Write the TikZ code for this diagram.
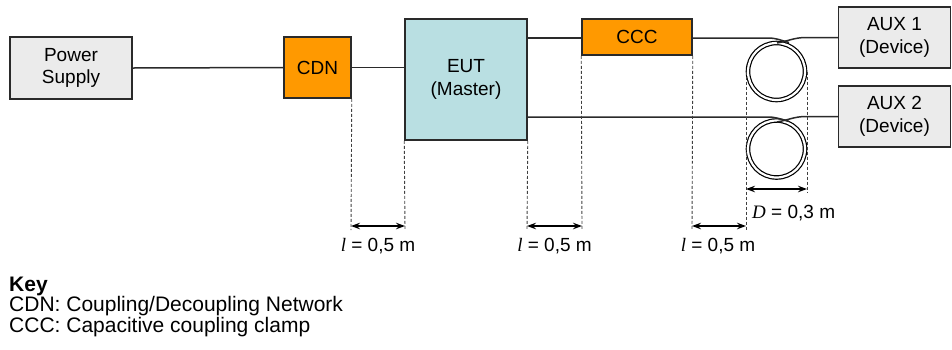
\documentclass[tikz,border=0pt]{standalone}
\usepackage{fontspec}
\setmainfont{Liberation Sans}
\newfontfamily\mathserif{Liberation Serif}
\usetikzlibrary{arrows.meta}
\definecolor{boxgray}{HTML}{EBEBEB}
\definecolor{boxorange}{HTML}{FF9900}
\definecolor{boxteal}{HTML}{B9DFE2}
\definecolor{edge}{HTML}{2A2A2A}
\begin{document}
\begin{tikzpicture}[x=1pt,y=-1pt,
  box/.style={draw=edge, line width=1.5pt, inner sep=0pt, align=center,
    font=\fontsize{19}{22.5}\selectfont},
  wire/.style={line width=1.5pt, draw=edge},
  coil/.style={circle, draw=black, line width=1.2pt, double=white, double distance=2.2pt,
    minimum size=57pt, inner sep=0pt},
  dim/.style={draw=black!75, line width=0.9pt, dash pattern=on 3pt off 2pt},
  dimarrow/.style={line width=1.3pt, {Stealth[length=9pt,width=6.5pt]}-{Stealth[length=9pt,width=6.5pt]}},
  lab/.style={inner sep=0pt, font=\fontsize{19}{22}\selectfont},
  keytext/.style={inner sep=0pt, anchor=base west, font=\fontsize{21}{24}\selectfont}]
\useasboundingbox (0,0) rectangle (952,349);

% boxes
\node[box, fill=boxgray, minimum width=122pt, minimum height=62pt] (ps) at (71,68) {Power\\Supply};
\node[box, fill=boxorange, minimum width=67pt, minimum height=61pt] (cdn) at (317.5,67.5) {CDN};
\node[box, fill=boxteal, minimum width=122pt, minimum height=121pt] (eut) at (466,79.5) {EUT\\(Master)};
\node[box, fill=boxorange, minimum width=110pt, minimum height=36pt] (ccc) at (637,37) {CCC};
\node[box, fill=boxgray, minimum width=112pt, minimum height=61pt] (aux1) at (894.5,37.5) {AUX 1\\(Device)};
\node[box, fill=boxgray, minimum width=112pt, minimum height=61pt] (aux2) at (894.5,116.5) {AUX 2\\(Device)};

% coils
\node[coil] (coil1) at (776.5,71.5) {};
\node[coil] (coil2) at (776.5,149) {};

% wires
\draw[wire] (ps.east) -- (cdn.west);
\draw[wire] (cdn.east) -- (cdn.east -| eut.west);
\coordinate (eutt) at (527,38);
\coordinate (eutb) at (527,117);
\draw[wire] (eutt) -- (ccc.west |- eutt);
\draw[wire] (ccc.east |- eutt) -- (768,38) to[out=0,in=165] (789,42.5);
\draw[wire] (777,43) to[out=10,in=180] (806,37.5) -- (aux1.west);
\draw[wire] (eutb) -- (768,117) to[out=0,in=165] (789,121.5);
\draw[wire] (777,122) to[out=10,in=180] (806,116.5) -- (aux2.west);

% dashed extension lines
\coordinate (d1) at (351,230);
\coordinate (d2) at (405,230);
\coordinate (d3) at (527,230);
\coordinate (d4) at (582,230);
\coordinate (d5) at (692,230);
\coordinate (d6) at (746,230);
\coordinate (d7) at (807,192);
\draw[dim] (cdn.south east) -- (d1);
\draw[dim] (eut.south west) -- (d2);
\draw[dim] (eut.south east) -- (d3);
\draw[dim] (ccc.south west) -- (d4);
\draw[dim] (ccc.south east) -- (d5);
\draw[dim] (746,71.5) -- (d6);
\draw[dim] (807,71.5) -- (d7);

% dimension arrows
\coordinate (a1l) at (351,226); \coordinate (a1r) at (405,226);
\coordinate (a2l) at (527,226); \coordinate (a2r) at (582,226);
\coordinate (a3l) at (692,226); \coordinate (a3r) at (746,226);
\coordinate (a4l) at (746,189); \coordinate (a4r) at (807,189);
\draw[dimarrow] (a1l) -- (a1r);
\draw[dimarrow] (a2l) -- (a2r);
\draw[dimarrow] (a3l) -- (a3r);
\draw[dimarrow] (a4l) -- (a4r);

\node[lab] (l1) at (378,246) {{\mathserif\itshape l} = 0,5 m};
\node[lab] (l2) at (554.5,246) {{\mathserif\itshape l} = 0,5 m};
\node[lab] (l3) at (718,246) {{\mathserif\itshape l} = 0,5 m};
\node[lab, anchor=west] (dl) at (752,213) {{\mathserif\itshape D} = 0,3 m};

% key
\node[keytext, font=\fontsize{21}{24}\selectfont\bfseries] (key) at (9,291) {Key};
\node[keytext] (k1) at (9,311.5) {CDN: Coupling/Decoupling Network};
\node[keytext] (k2) at (9,332) {CCC: Capacitive coupling clamp};
\end{tikzpicture}
\end{document}
